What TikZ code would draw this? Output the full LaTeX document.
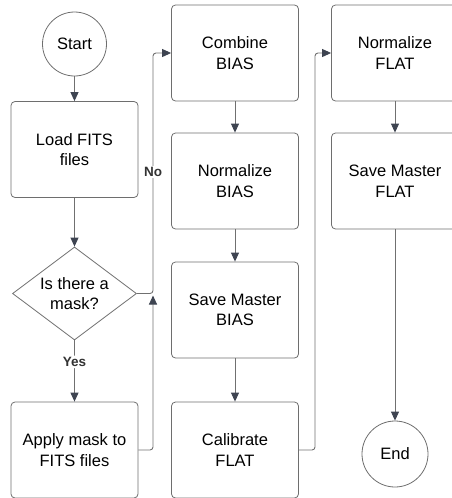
\documentclass[tikz,border=0pt]{standalone}
\usepackage{fontspec}
\setmainfont{Liberation Sans}
\usetikzlibrary{shapes.geometric, arrows.meta}
\definecolor{boxgray}{HTML}{6E6E6E}
\definecolor{linegray}{HTML}{707070}
\definecolor{tipgray}{HTML}{3E4451}
\tikzstyle{startstop} = [circle, minimum size=64pt, inner sep=0pt, text centered, draw=boxgray, line width=0.8pt]
\tikzstyle{process} = [rectangle, rounded corners=4pt, minimum width=127pt, minimum height=96pt, align=center, draw=boxgray, line width=0.8pt]
\tikzstyle{decision} = [diamond, aspect=1.33, minimum width=124pt, minimum height=93pt, inner sep=0pt, align=center, draw=boxgray, line width=0.8pt]
\tikzstyle{arrow} = [line width=0.9pt, draw=linegray, rounded corners=3pt, -{Triangle[length=9pt,width=8pt,color=tipgray]}]
\tikzstyle{flowlabel} = [fill=white, font=\bfseries\fontsize{13.5}{15}\selectfont, text=black!80, inner sep=1.5pt]

\begin{document}
\begin{tikzpicture}[node distance=128pt, font=\fontsize{16.5}{20.5}\selectfont]
\useasboundingbox (0,0) rectangle (451pt,-498pt);

\node (start) [startstop] at (74.5pt,-44pt) {Start};
\node (load) [process, below of=start, yshift=22.5pt] {Load FITS\\files};
\node (mask) [decision, below of=load, yshift=-16pt] {Is there a\\mask?};
\node (apply) [process, below of=mask, yshift=-28.5pt] {Apply mask to\\FITS files};

\node (combine) [process] at (235pt,-53pt) {Combine\\BIAS};
\node (normbias) [process, below of=combine] {Normalize\\BIAS};
\node (savebias) [process, below of=normbias, yshift=-1pt] {Save Master\\BIAS};
\node (calib) [process, below of=savebias, yshift=-12pt] {Calibrate\\FLAT};

\node (normflat) [process, right of=combine, xshift=32pt] {Normalize\\FLAT};
\node (saveflat) [process, below of=normflat] {Save Master\\FLAT};
\node (end) [startstop, minimum size=66pt] at (395pt,-454pt) {End};

\coordinate (nojoin) at (153pt,-293.5pt);
\coordinate (flatjoin) at (315pt,-450pt);

\draw [arrow] (start) -- (load);
\draw [arrow] (load) -- (mask);
\draw [arrow] (mask) -- node[flowlabel, pos=0.35] {Yes} (apply);
\draw [arrow] (mask.east) -- (nojoin) |- (combine.west);
\draw [arrow] (apply.east) -| ([yshift=-2pt]nojoin);
\node (nolbl) [flowlabel] at (153pt,-172pt) {No};

\draw [arrow] (combine) -- (normbias);
\draw [arrow] (normbias) -- (savebias);
\draw [arrow] (savebias) -- (calib);
\draw [arrow] (calib.east) -- (flatjoin) |- (normflat.west);

\draw [arrow] (normflat) -- (saveflat);
\draw [arrow] (saveflat) -- (end);

\end{tikzpicture}
\end{document}
